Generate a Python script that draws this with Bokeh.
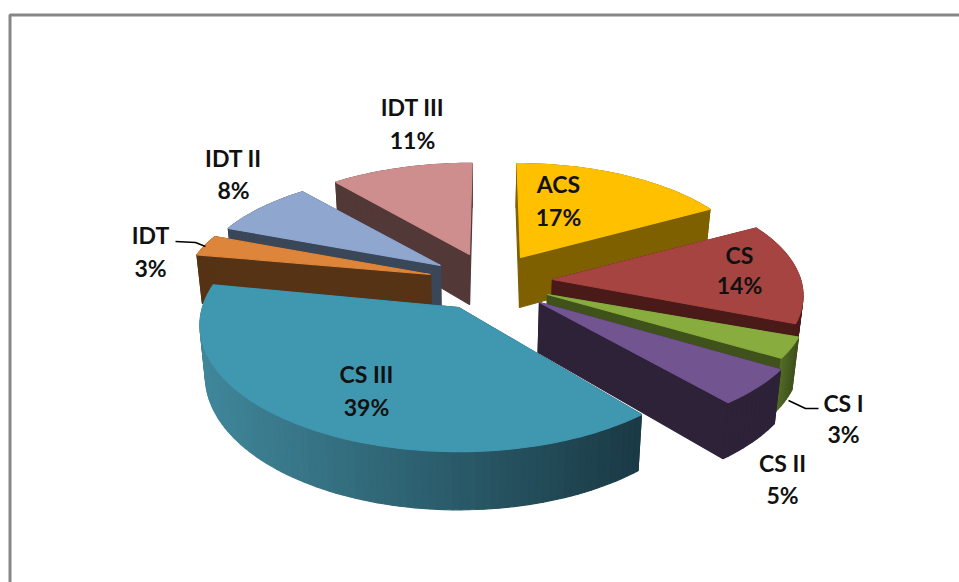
import math
from bokeh.plotting import figure
from bokeh.embed import file_html
from bokeh.resources import INLINE
from bokeh.core.properties import value

# ---- data ----
names = ["ACS", "CS", "CS I", "CS II", "CS III", "IDT", "IDT II", "IDT III"]
shares = [17, 14, 3, 5, 39, 3, 8, 11]

# ---- styles / layout ----
top_colors = ["#FFC000", "#A64441", "#89AC3E", "#725491", "#4097B0", "#DD853A", "#8FA6CF", "#CE8E8E"]
side_colors = ["#7F6000", "#491A18", "#3F521C", "#2D2238", "#1C3F4B", "#573316", "#3A4759", "#533838"]
arc_colors_a = ["#7F6000", "#5A2321", "#556E26", "#2D2238", "#40879B", "#573316", "#3A4759", "#533838"]
arc_colors_b = ["#7F6000", "#491A18", "#3F521C", "#2D2238", "#1A3A45", "#573316", "#3A4759", "#533838"]
apex_x = [520, 552, 547, 539, 458, 430, 440, 469]
apex_y = [257, 279, 294, 302, 307, 274, 265, 254]
radius_x = [233, 248, 256, 264, 256, 244, 240, 236]
radius_y = [107, 114, 110, 116, 124, 108, 106, 104]
lean = [4, 0, 0, 0, 0, 0, 0, -3]
paint_order = [7, 0, 6, 1, 5, 2, 3, 4]
PERSP = 0.14
DEPTH = 50
VX = 470
BOTTOM_SHRINK = 0.98

label_x = [558, 739, 843, 782, 366, 150, 233, 412]
label_y1 = [183, 254, 402, 462, 373, 234, 157, 106]
label_y2 = [216, 284, 433, 494, 406, 267, 189, 139]

FRAME = "#868686"


def mix(c1, c2, t):
    a = [int(c1[i:i + 2], 16) for i in (1, 3, 5)]
    b = [int(c2[i:i + 2], 16) for i in (1, 3, 5)]
    return "#%02x%02x%02x" % tuple(round(u + (v - u) * t) for u, v in zip(a, b))


def rim(i, deg):
    t = math.radians(deg)
    X, Y = math.sin(t), -math.cos(t)
    s = 1 / (1 - PERSP * Y)
    x = apex_x[i] + (radius_x[i] * X + lean[i] * Y) * s
    y = apex_y[i] + radius_y[i] * Y * s
    return x, y, s


def low(x, y, s):
    return VX + (x - VX) * BOTTOM_SHRINK, y + DEPTH * s


# slice angles come from the shares
total = sum(shares)
starts, ends, acc = [], [], 0
for v in shares:
    starts.append(acc / total * 360)
    acc += v
    ends.append(acc / total * 360)

xs, ys, cols = [], [], []


def add(px, py, c):
    xs.append(px)
    ys.append(py)
    cols.append(c)


for i in paint_order:
    a0, a1 = starts[i], ends[i]
    n = max(4, int((a1 - a0) / 1.5))
    angs = [a0 + (a1 - a0) * k / n for k in range(n + 1)]
    pts = [rim(i, a) for a in angs]
    ax, ay = apex_x[i], apex_y[i]
    bx, by = low(ax, ay, 1)
    # radial cut faces
    for p_ in (pts[0], pts[-1]):
        lx, ly = low(*p_)
        add([ax, p_[0], lx, bx], [ay, p_[1], ly, by], side_colors[i])
    # outer wall, shaded left to right; each band overlaps the next to hide seams
    xmin, xmax = min(q[0] for q in pts), max(q[0] for q in pts)
    order = sorted(range(n), key=lambda k: pts[k][0] + pts[k + 1][0])
    for k in order:
        a, b = pts[k], pts[k + 1]
        lax, lay = low(*a)
        lbx, lby = low(*b)
        t = ((a[0] + b[0]) / 2 - xmin) / max(1, xmax - xmin)
        add([a[0], b[0], lbx, lax], [a[1], b[1], lby, lay], mix(arc_colors_a[i], arc_colors_b[i], t))
    # top face
    add([ax] + [q[0] for q in pts], [ay] + [q[1] for q in pts], top_colors[i])

p = figure(width=959, height=582, x_range=(0, 959), y_range=(582, 0),
           toolbar_location=None, output_backend="svg", min_border=0,
           x_axis_type=None, y_axis_type=None, outline_line_color=None)
p.grid.visible = False
p.background_fill_color = "white"
p.border_fill_color = "white"

# chart frame
p.line([9.5, 9.5, 959], [582, 14.5, 14.5], line_color=FRAME, line_width=3)

p.patches(xs, ys, fill_color=cols, line_color=cols, line_width=1.2)

# leader lines
p.line([175, 195, 205], [241, 242, 246], line_color="black", line_width=1.5)
p.line([788, 805, 818], [400, 408, 408], line_color="black", line_width=1.5)

share_texts = [f"{v}%" for v in shares]
for yy, tt in ((label_y1, names), (label_y2, share_texts)):
    p.text(label_x, yy, text=tt, text_font=value("Lato"), text_font_style="bold",
           text_font_size="23px", text_color="#111111", text_align="center",
           text_baseline="middle")

open("out.html", "w").write(file_html(p, INLINE))
